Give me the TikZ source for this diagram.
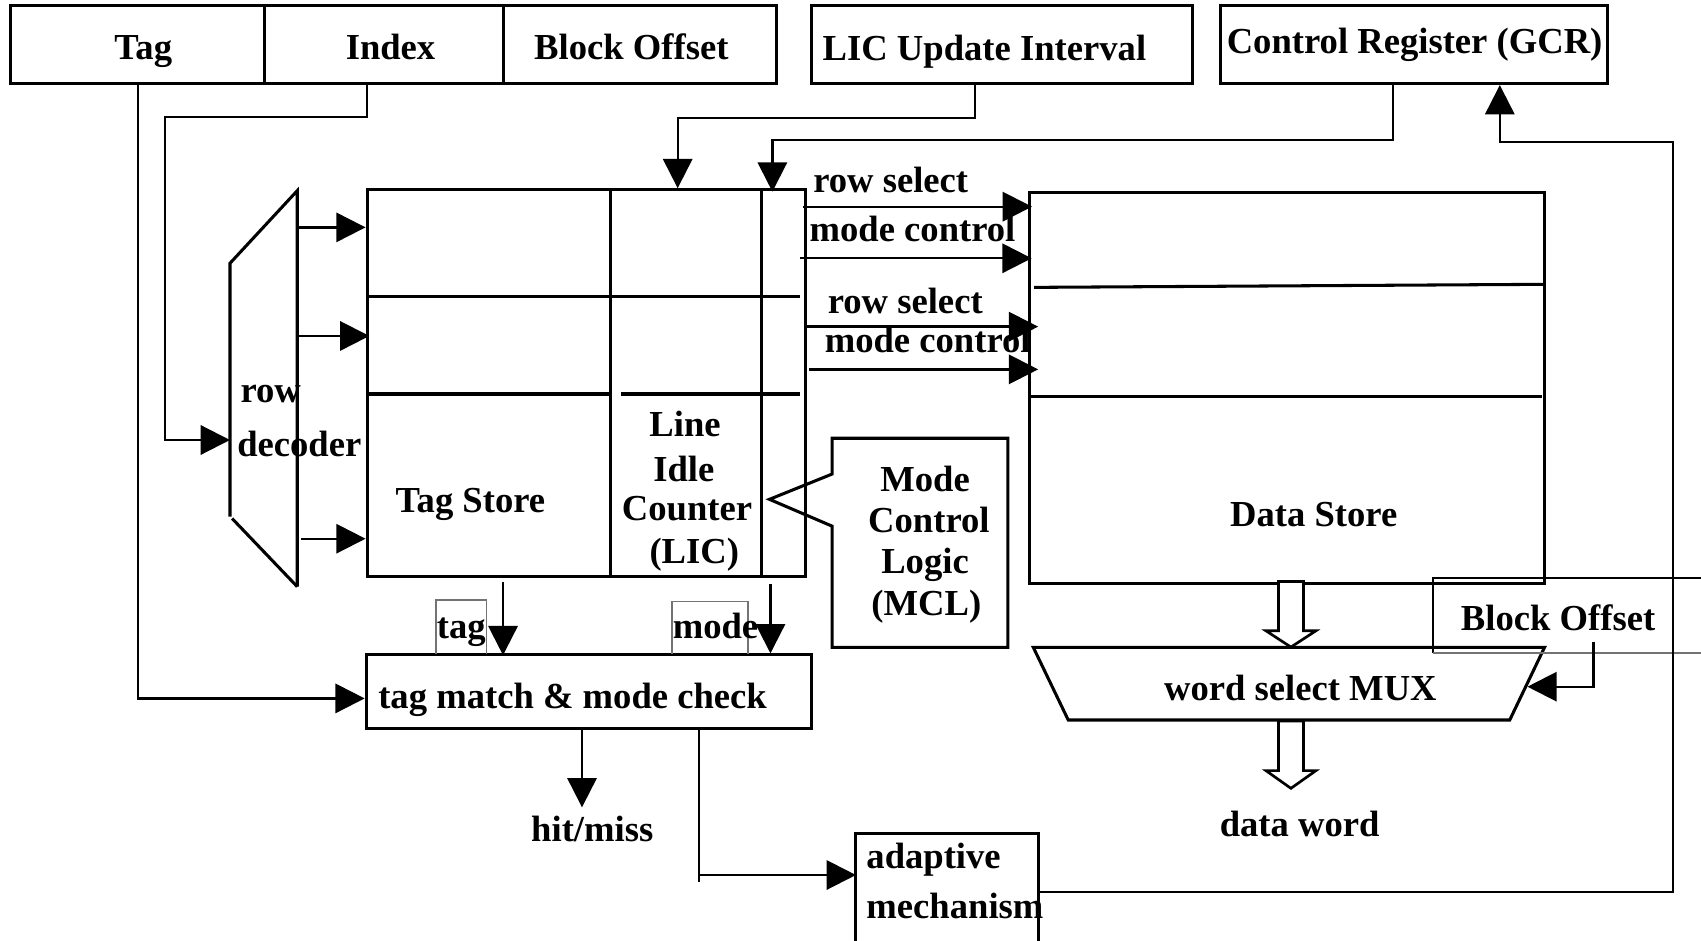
\documentclass[tikz,border=0pt]{standalone}
\usepackage{fontspec}
\setmainfont{Liberation Serif}
\usetikzlibrary{arrows.meta}

\begin{document}
\begin{tikzpicture}[x=0.01cm,y=-0.01cm,
  box/.style={draw, line width=0.8pt, inner sep=0pt},
  edge/.style={line width=0.8pt},
  thinbox/.style={draw=black!55, line width=0.4pt},
  wire/.style={line width=0.6pt},
  arr/.style={wire, -{Triangle[length=0.27cm,width=0.27cm]}},
  hollow/.style={draw, line width=0.7pt, fill=white},
  txt/.style={font=\fontsize{9.6}{11}\selectfont\bfseries, inner sep=0pt, anchor=base},
  txtl/.style={txt, anchor=base west},
]
\useasboundingbox (0,0) rectangle (1568,867);

% ---- address fields and registers ----
\node[box, minimum width=2.34cm, minimum height=0.715cm] (ftag)    at (127,41.25) {};
\node[box, minimum width=2.20cm, minimum height=0.715cm] (findex)  at (354,41.25) {};
\node[box, minimum width=2.52cm, minimum height=0.715cm] (foffset) at (590,41.25) {};
\node[box, minimum width=3.51cm, minimum height=0.715cm] (lic)     at (923.5,41.25) {};
\node[box, minimum width=3.57cm, minimum height=0.715cm] (gcr)     at (1303.5,41.25) {};
\node[txt] (ftagt)    at (132,55)   {Tag};
\node[txt] (findext)  at (360,55)   {Index};
\node[txt] (foffsett) at (582,55)   {Block Offset};
\node[txt] (lict)     at (907.5,56) {LIC Update Interval};
\node[txt] (gcrt)     at (1304,49)  {Control Register (GCR)};

% ---- row decoder ----
\draw[edge] (274,540.8) -- (274,175.8) -- (212,242.7) -- (212,476.3);
\draw[edge] (214,478) -- (274,540.8);
\coordinate (rdin) at (212,405.6);
\node[txtl] (rowt) at (221,371) {row};
\node[txtl] (dect) at (218,421) {decoder};

% ---- tag store with line idle counters ----
\node[box, minimum width=4.035cm, minimum height=3.566cm] (tagstore) at (540.25,353.3) {};
\draw[edge] (563,175) -- (563,531.6);
\draw[edge] (702,175) -- (702,531.6);
\draw[edge] (338.5,273.5) -- (737,273.5);
\draw[edge] (338.5,363.2) -- (563,363.2);
\draw[edge] (572,363.2) -- (737,363.2);
\node[txtl] (tst) at (364,472) {Tag Store};
\node[txt] (lic1) at (631.5,402.5) {Line};
\node[txt] (lic2) at (630.4,444)   {Idle};
\node[txt] (lic3) at (633.3,479.4) {Counter};
\node[txt] (lic4) at (640,519)     {(LIC)};

% ---- mode control logic callout ----
\draw[edge] (767,437) -- (767,404) -- (929,404) -- (929,596.7) -- (767,596.7)
            -- (767,485) -- (709.3,460.3) -- cycle;
\node[txt] (mcl1) at (852.7,453.2) {Mode};
\node[txt] (mcl2) at (856.3,491)   {Control};
\node[txt] (mcl3) at (852.7,529)   {Logic};
\node[txt] (mcl4) at (853.9,567)   {(MCL)};

% ---- data store ----
\node[box, minimum width=4.743cm, minimum height=3.604cm] (datastore) at (1186.65,357.8) {};
\draw[edge] (953.3,264.9) -- (1423.8,262.1);
\draw[edge] (949.5,365.7) -- (1421,365.7);
\node[txt] (dst) at (1211,485) {Data Store};

% ---- row select / mode control signals ----
\node[txtl] (rs1) at (749,177.6)   {row select};
\node[txtl] (mc1) at (745.6,222.8) {mode control};
\node[txtl] (rs2) at (762.4,288.8) {row select};
\node[txtl] (mc2) at (759.6,325.1) {mode control};
\draw[arr] (740.6,190.5) -- (951.3,190.5);
\draw[arr] (737.8,238.1) -- (951,238.1);
\draw[arr] (742.8,301.1) -- (957,301.1);
\draw[arr] (745.6,340.5) -- (957,340.5);

% ---- word select multiplexer ----
\draw[edge] (952.5,596.7) -- (1423.8,596.7) -- (1391.7,663.7) -- (984.7,663.7) -- cycle;
\coordinate (muxin) at (1408,633);
\node[txt] (muxt) at (1198.7,645.3) {word select MUX};
\draw[hollow] (1178.5,536) -- (1201.5,536) -- (1201.5,581.5) -- (1213,581.5)
              -- (1190,596.5) -- (1167,581.5) -- (1178.5,581.5) -- cycle;
\draw[hollow] (1178.5,664.6) -- (1201.5,664.6) -- (1201.5,710.4) -- (1213,710.4)
              -- (1190,726.7) -- (1167,710.4) -- (1178.5,710.4) -- cycle;
\node[txt] (dwt) at (1198,771) {data word};

% ---- block offset into the multiplexer ----
\draw[line width=0.4pt] (1575,533) -| (1321,602);
\draw[draw=black!55, line width=0.6pt] (1321,602) -- (1575,602);
\node[txtl] (bot) at (1346,581.4) {Block Offset};
\draw[arr] (1469,591.5) |- (muxin);

% ---- tag match and mode check ----
\node[box, minimum width=4.101cm, minimum height=0.682cm] (tagmatch) at (542.75,637.3) {};
\node[txtl] (tmt) at (348,653) {tag match \& mode check};
\draw[thinbox] (402,603.2) |- (448.6,553.1) -- (448.6,603.2);
\draw[thinbox] (619.5,603.2) |- (689.5,554.6) -- (689.5,603.2);
\node[txtl] (tagt)  at (402,588.4) {tag};
\node[txtl] (modet) at (619.5,589) {mode};
\draw[arr] (463.7,536.2) -- (463.7,604);
\draw[arr] (710.2,538.3) -- (710.2,602.3);
\draw[arr] (536.5,671.4) -- (536.5,744.2);
\node[txtl] (hmt) at (489,776) {hit/miss};

% ---- adaptive mechanism ----
\draw[edge] (788.2,875) -- (788.2,768.2) -- (957.6,768.2) -- (957.6,875);
\coordinate (adin) at (789,806.6);
\coordinate (adout) at (957.6,822);
\node[txtl] (ad1) at (798,800.5) {adaptive};
\node[txtl] (ad2) at (798,846.6) {mechanism};
\draw[arr] (644.4,669.9) |- (adin);
\draw[wire] (644.4,806.6) -- (644.4,812.7);

% ---- address and register connections ----
\draw[arr] (ftag.south) |- ([yshift=-0.065cm]tagmatch.west);
\draw[arr] ([xshift=-0.157cm]findex.south) |- (152.4,108) |- (rdin);
\draw[arr] ([xshift=-0.249cm]lic.south) |- (624.7,109) -- (tagstore.north -| 624.7,0);
\draw[arr] ([xshift=-0.197cm]gcr.south) |- (712,129) -- (712,176.7);
\draw[arr] (adout) -| (1542,130.6) -| ([xshift=0.79cm]gcr.south);

% ---- row decoder outputs ----
\draw[arr] (274,209.6) -- (tagstore.west |- 0,209.6);
\draw[arr] (274,309.7) -- (340.5,309.7);
\draw[arr] (277.5,496.6) -- (tagstore.west |- 0,496.6);
\end{tikzpicture}
\end{document}
